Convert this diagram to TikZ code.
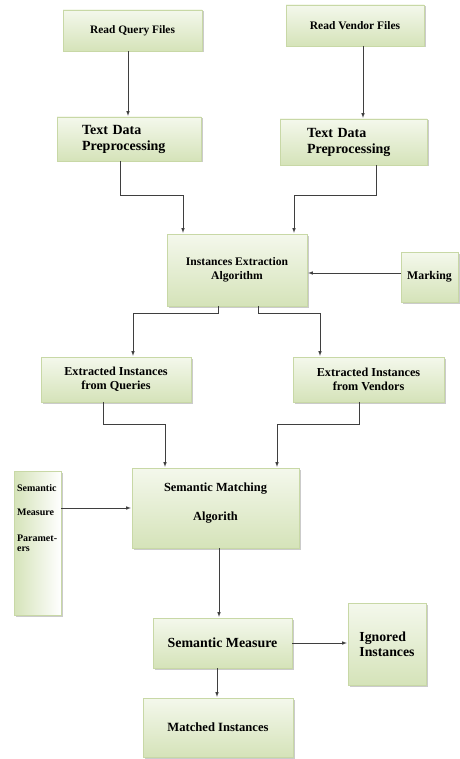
\documentclass[tikz,border=0pt]{standalone}
\usepackage{fontspec}
\setmainfont{Liberation Serif}
\usepackage{tikz}
\usetikzlibrary{shadows,arrows}

\definecolor{boxgreen}{HTML}{D5E3B9}
\definecolor{boxtop}{HTML}{F4F8EC}
\definecolor{boxline}{HTML}{C8D8A6}
\definecolor{wire}{HTML}{3F3F3F}

\begin{document}
\begin{tikzpicture}[x=1pt, y=-1pt, line width=0.6pt,
  box/.style={draw=boxline, line width=0.4pt, top color=boxtop, bottom color=boxgreen,
    drop shadow={shadow xshift=1.5pt, shadow yshift=-1.5pt, fill=black!45, opacity=0.45},
    inner sep=0pt, align=center},
  wire/.style={draw=wire, -latex, shorten >=1pt}]
\path[use as bounding box] (0,0) rectangle (459,759);

% top row
\node[box, minimum width=139pt, minimum height=41pt, font=\bfseries\fontsize{11.4}{14}\selectfont] (rq) at (132.5,30.5) {Read Query Files};
\node[box, minimum width=138pt, minimum height=41pt, font=\bfseries\fontsize{11.5}{14}\selectfont] (rv) at (355,25.5) {Read Vendor Files};

\node[box, align=left, text width=94pt, minimum width=144pt, minimum height=44pt, font=\bfseries\fontsize{14}{16}\selectfont] (tpl) at (129,139) {Text Data\\Preprocessing};
\node[box, align=left, text width=93pt, minimum width=147pt, minimum height=46pt, font=\bfseries\fontsize{14}{16}\selectfont] (tpr) at (353.5,142) {Text Data\\Preprocessing};

\draw[wire] ([xshift=-4.5pt]rq.south) -- ([xshift=-4.5pt]rq.south |- tpl.north);
\draw[wire] ([xshift=8pt]rv.south) -- ([xshift=8pt]rv.south |- tpr.north);

% extraction
\node[box, minimum width=140pt, minimum height=72pt, font=\bfseries\fontsize{11.6}{14}\selectfont] (iea) at (237,270) {Instances Extraction\\Algorithm};
\node[box, minimum width=57pt, minimum height=50pt, font=\bfseries\fontsize{11.8}{14}\selectfont] (mark) at (429.5,277) {Marking};

\draw[wire] ([xshift=-9pt]tpl.south) -- ++(0,34) -| ([xshift=-54pt]iea.north);
\draw[wire] ([xshift=22.5pt]tpr.south) -- ++(0,30) -| ([xshift=57pt]iea.north);
\draw[wire] ([yshift=4pt]mark.west) -- ([yshift=4pt]mark.west -| iea.east);

\node[box, minimum width=150pt, minimum height=45pt, font=\bfseries\fontsize{12.2}{14}\selectfont] (eiq) at (116,379.5) {Extracted Instances\\from Queries};
\node[box, minimum width=151pt, minimum height=45pt, font=\bfseries\fontsize{12.2}{14}\selectfont] (eiv) at (368.5,379.5) {Extracted Instances\\from Vendors};

\draw[wire] ([xshift=-19pt]iea.south) -- ++(0,7) -| ([xshift=17pt]eiq.north);
\draw[wire] ([xshift=21pt]iea.south) -- ++(0,7) -| ([xshift=-48.5pt]eiv.north);

% matching
\node[box, minimum width=167pt, minimum height=80pt, font=\bfseries\fontsize{12.4}{14}\selectfont] (sma) at (215.5,508) {\raisebox{1.5pt}[0pt][0pt]{\begin{tabular}{@{}c@{}}Semantic Matching\\[15pt]Algorith\end{tabular}}};
\node[box, left color=boxgreen, right color=white, minimum width=47pt, minimum height=144pt] (smp) at (37.5,543) {};
\node[anchor=north west, align=left, inner sep=0pt, font=\bfseries\fontsize{10}{10}\selectfont] (smptext) at ([shift={(3pt,-13pt)}]smp.north west) {Semantic\\[14pt]Measure\\[16pt]Paramet-\\ers};

\draw[wire] ([xshift=-13pt]eiq.south) -- ++(0,22) -| ([xshift=-50.5pt]sma.north);
\draw[wire] ([xshift=-9.5pt]eiv.south) -- ++(0,22) -| ([xshift=61.5pt]sma.north);
\draw[wire] (smp.east |- sma.west) -- (sma.west);

% results
\node[box, minimum width=139pt, minimum height=50pt, font=\bfseries\fontsize{13.9}{16}\selectfont] (sm) at (222.5,643) {Semantic Measure};
\node[box, align=left, minimum width=78pt, minimum height=82pt, font=\bfseries\fontsize{13.8}{15}\selectfont] (ign) at (387,644) {Ignored\\Instances};
\node[box, minimum width=150pt, minimum height=59pt, font=\bfseries\fontsize{12.6}{14}\selectfont] (mi) at (218,727.5) {Matched Instances};

\draw[wire] ([xshift=3.5pt]sma.south) -- ([xshift=3.5pt]sma.south |- sm.north);
\draw[wire] (sm.east) -- (sm.east -| ign.west);
\draw[wire] ([xshift=-5.5pt]sm.south) -- ([xshift=-5.5pt]sm.south |- mi.north);
\end{tikzpicture}
\end{document}
